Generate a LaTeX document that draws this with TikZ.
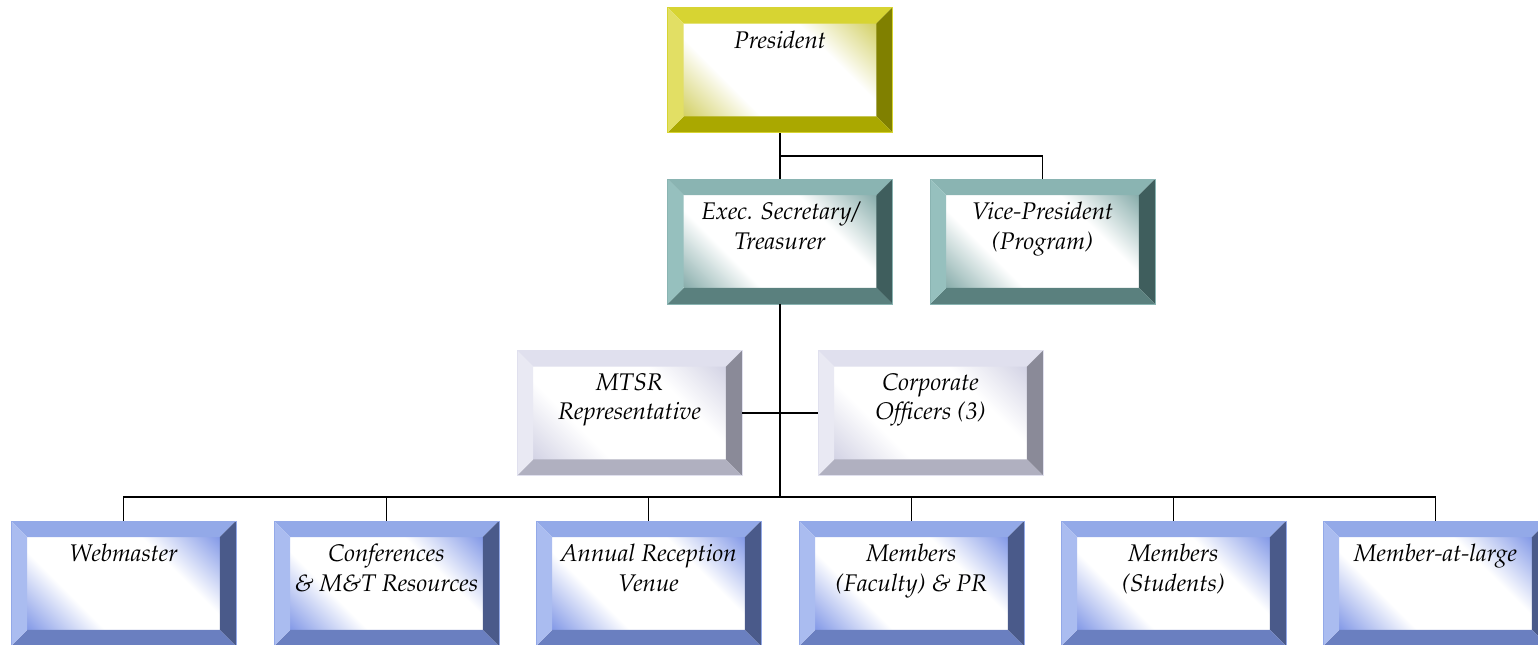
\documentclass[tikz,border=0pt]{standalone}
\usepackage[T1]{fontenc}
\renewcommand{\rmdefault}{ppl}

\definecolor{yeltop}{RGB}{215,212,50}
\definecolor{yelleft}{RGB}{226,223,100}
\definecolor{yelright}{RGB}{128,128,0}
\definecolor{yelbot}{RGB}{170,168,0}
\definecolor{yelin}{RGB}{205,202,80}
\definecolor{tealtop}{RGB}{138,180,178}
\definecolor{tealleft}{RGB}{150,192,190}
\definecolor{tealright}{RGB}{63,94,93}
\definecolor{tealbot}{RGB}{90,128,126}
\definecolor{tealin}{RGB}{120,162,160}
\definecolor{lavtop}{RGB}{224,224,238}
\definecolor{lavleft}{RGB}{233,233,243}
\definecolor{lavright}{RGB}{138,138,152}
\definecolor{lavbot}{RGB}{176,176,192}
\definecolor{lavin}{RGB}{205,205,225}
\definecolor{blutop}{RGB}{147,169,232}
\definecolor{bluleft}{RGB}{170,188,240}
\definecolor{bluright}{RGB}{74,90,138}
\definecolor{blubot}{RGB}{106,127,192}
\definecolor{bluin}{RGB}{115,140,228}
\colorlet{bvin}{white}

\pgfdeclareverticalshading[bvin]{bevelfill}{100bp}{color(0bp)=(bvin); color(12bp)=(bvin);
  color(34bp)=(white); color(66bp)=(white); color(88bp)=(bvin); color(100bp)=(bvin)}

\tikzset{
  bevelbox/.style={rectangle, draw=#1top, line width=0.4pt,
    minimum width=4.5cm, minimum height=2.5cm, inner sep=0pt,
    path picture={
      \coordinate (a) at (path picture bounding box.north west);
      \coordinate (b) at (path picture bounding box.north east);
      \coordinate (c) at (path picture bounding box.south east);
      \coordinate (d) at (path picture bounding box.south west);
      \colorlet{bvin}{#1in}
      \shade[shading=bevelfill, shading angle=-45]
        ([shift={(16,16)}]a) rectangle ([shift={(-16,-16)}]c);
      \fill[#1top] (a) -- (b) -- ([shift={(-16,16)}]b) -- ([shift={(16,16)}]a) -- cycle;
      \fill[#1right] (b) -- (c) -- ([shift={(-16,-16)}]c) -- ([shift={(-16,16)}]b) -- cycle;
      \fill[#1bot] (c) -- (d) -- ([shift={(16,-16)}]d) -- ([shift={(-16,-16)}]c) -- cycle;
      \fill[#1left] (d) -- (a) -- ([shift={(16,16)}]a) -- ([shift={(16,-16)}]d) -- cycle;
    }},
  boxtext/.style={font=\fontsize{13.7}{16.8}\selectfont\itshape, align=center,
    inner sep=0pt, anchor=north, yshift=-0.45cm},
}

\begin{document}
\begin{tikzpicture}
[x=0.02cm,y=-0.02cm,line width=1.1pt]
\useasboundingbox (0,0) rectangle (1538,645);
\node[bevelbox=yel, label={[boxtext]north:President}] (pres) at (780,70) {};
\node[bevelbox=teal, label={[boxtext]north:Exec. Secretary/\\Treasurer}] (exec) at (780,241.5) {};
\node[bevelbox=teal, label={[boxtext]north:Vice-President\\(Program)}] (vp) at (1042.5,241.5) {};
\node[bevelbox=lav, label={[boxtext]north:MTSR\\Representative}] (mtsr) at (629.5,413) {};
\node[bevelbox=lav, label={[boxtext]north:Corporate\\Officers (3)}] (corp) at (930.5,413) {};
\node[bevelbox=blu, label={[boxtext]north:Webmaster}] (web) at (123.5,583.5) {};
\node[bevelbox=blu, label={[boxtext]north:Conferences\\\& M\&T Resources}] (conf) at (386.5,583.5) {};
\node[bevelbox=blu, label={[boxtext]north:Annual Reception\\Venue}] (recep) at (648.5,583.5) {};
\node[bevelbox=blu, label={[boxtext]north:Members\\(Faculty) \& PR}] (fac) at (911.5,583.5) {};
\node[bevelbox=blu, label={[boxtext]north:Members\\(Students)}] (stud) at (1173.5,583.5) {};
\node[bevelbox=blu, label={[boxtext]north:Member-at-large}] (large) at (1435.5,583.5) {};
\coordinate (j1) at (780,156);
\coordinate (j2) at (780,497);
\draw (pres) -- (exec);
\draw (j1) -| (vp);
\draw (exec) -- (j2);
\draw (mtsr) -- (corp);
\foreach \to in {web,conf,recep,fac,stud,large}
\draw (j2) -| (\to);
\end{tikzpicture}
\end{document}
